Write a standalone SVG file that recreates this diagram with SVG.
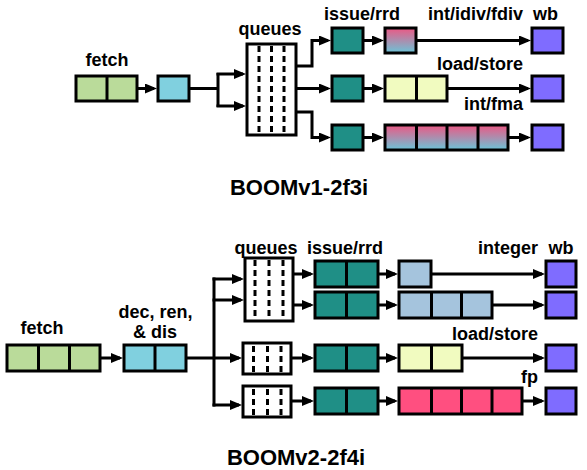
<svg xmlns="http://www.w3.org/2000/svg" width="587" height="470" viewBox="0 0 587 470">
<defs>
<marker id="ah" viewBox="0 0 12 10" refX="9" refY="5" markerWidth="12" markerHeight="10" markerUnits="userSpaceOnUse" orient="auto">
<path d="M0,0 L12,5 L0,10 z" fill="#000"/>
</marker>
<linearGradient id="grad" x1="0" y1="0" x2="0" y2="1">
<stop offset="0" stop-color="#EC5884"/>
<stop offset="1" stop-color="#6BC4D8"/>
</linearGradient>
<style>
rect, .div { stroke:#000; stroke-width:3; }
.green { fill:#BADB9A; }
.cyan { fill:#80D0DF; }
.teal { fill:#1F8F86; }
.wb { fill:#7F6CFF; }
.yellow { fill:#F1FBC0; }
.lblue { fill:#A5C4DD; }
.pink { fill:#FF4F80; }
.grad { fill:url(#grad); }
.q { fill:#fff; }
.dash { stroke:#000; stroke-width:3; stroke-dasharray:6 4; fill:none; }
.conn path { fill:none; stroke:#000; stroke-width:3; }
.arr { marker-end:url(#ah); }
text { font-family:"Liberation Sans", Arial, Helvetica, sans-serif; font-weight:bold; font-size:18px; fill:#000; }
.title { font-size:22px; }
</style>
</defs>

<!-- ================= BOOMv1 ================= -->
<g id="v1-fetch">
<rect class="green" x="76" y="76" width="61" height="25"/>
<line class="div" x1="107" y1="76" x2="107" y2="101"/>
<text x="107" y="66" text-anchor="middle">fetch</text>
</g>
<g id="v1-dec">
<rect class="cyan" x="158" y="76" width="31" height="25"/>
</g>
<g id="v1-queues">
<rect class="q" x="247" y="44" width="49" height="91"/>
<line class="dash" x1="259" y1="46" x2="259" y2="134"/>
<line class="dash" x1="271.5" y1="46" x2="271.5" y2="134"/>
<line class="dash" x1="284" y1="46" x2="284" y2="134"/>
<text x="270" y="35" text-anchor="middle">queues</text>
</g>
<g id="v1-issue">
<rect class="teal" x="332" y="28" width="31" height="25"/>
<rect class="teal" x="332" y="76" width="31" height="25"/>
<rect class="teal" x="332" y="125" width="31" height="25"/>
<text x="362" y="20" text-anchor="middle">issue/rrd</text>
</g>
<g id="v1-int">
<rect class="grad" x="385" y="28" width="31" height="25"/>
<text x="523" y="20" text-anchor="end">int/idiv/fdiv</text>
</g>
<g id="v1-mem">
<rect class="yellow" x="385" y="76" width="62" height="25"/>
<line class="div" x1="416.5" y1="76" x2="416.5" y2="101"/>
<text x="523" y="70" text-anchor="end">load/store</text>
</g>
<g id="v1-fma">
<rect class="grad" x="385" y="125" width="123" height="25"/>
<line class="div" x1="416.5" y1="125" x2="416.5" y2="150"/>
<line class="div" x1="447" y1="125" x2="447" y2="150"/>
<line class="div" x1="478" y1="125" x2="478" y2="150"/>
<text x="523" y="109.5" text-anchor="end">int/fma</text>
</g>
<g id="v1-wb">
<rect class="wb" x="532" y="28" width="31" height="25"/>
<rect class="wb" x="532" y="76" width="31" height="25"/>
<rect class="wb" x="532" y="125" width="31" height="25"/>
<text x="533" y="20">wb</text>
</g>
<text id="v1-title" class="title" x="299" y="195" text-anchor="middle">BOOMv1-2f3i</text>

<g id="v1-connectors" class="conn">
<path class="arr" d="M137,88.5 H154"/>
<path d="M189,88.5 H218 M218,73 V107"/>
<path class="arr" d="M216.5,74 H243"/>
<path class="arr" d="M216.5,106 H243"/>
<path class="arr" d="M296,66 H312 V40.5 H328"/>
<path class="arr" d="M296,88.5 H328"/>
<path class="arr" d="M296,112 H312 V137.5 H328"/>
<path class="arr" d="M363,40.5 H381"/>
<path class="arr" d="M363,88.5 H381"/>
<path class="arr" d="M363,137.5 H381"/>
<path class="arr" d="M416,40.5 H528"/>
<path class="arr" d="M447,88.5 H528"/>
<path class="arr" d="M508,137.5 H528"/>
</g>

<!-- ================= BOOMv2 ================= -->
<g id="v2-fetch">
<rect class="green" x="7" y="345" width="93" height="26"/>
<line class="div" x1="38.5" y1="345" x2="38.5" y2="371"/>
<line class="div" x1="69.5" y1="345" x2="69.5" y2="371"/>
<text x="42" y="333.5" text-anchor="middle">fetch</text>
</g>
<g id="v2-dec">
<rect class="cyan" x="124" y="345" width="62" height="26"/>
<line class="div" x1="155" y1="345" x2="155" y2="371"/>
<text x="155.5" y="318" text-anchor="middle">dec, ren,</text>
<text x="155" y="338" text-anchor="middle">&amp; dis</text>
</g>
<g id="v2-queue-int">
<rect class="q" x="245" y="258" width="48" height="63"/>
<line class="dash" x1="255" y1="260" x2="255" y2="320"/>
<line class="dash" x1="269" y1="260" x2="269" y2="320"/>
<line class="dash" x1="283" y1="260" x2="283" y2="320"/>
<text x="266" y="254" text-anchor="middle">queues</text>
</g>
<g id="v2-queue-mem">
<rect class="q" x="243" y="343" width="48" height="31"/>
<line class="dash" x1="253.5" y1="346" x2="253.5" y2="373"/>
<line class="dash" x1="267.5" y1="346" x2="267.5" y2="373"/>
<line class="dash" x1="281" y1="346" x2="281" y2="373"/>
</g>
<g id="v2-queue-fp">
<rect class="q" x="243" y="386" width="48" height="31"/>
<line class="dash" x1="253.5" y1="389" x2="253.5" y2="416"/>
<line class="dash" x1="267.5" y1="389" x2="267.5" y2="416"/>
<line class="dash" x1="281" y1="389" x2="281" y2="416"/>
</g>
<g id="v2-issue">
<rect class="teal" x="315" y="261" width="63" height="26"/>
<line class="div" x1="346.5" y1="261" x2="346.5" y2="287"/>
<rect class="teal" x="315" y="292" width="63" height="26"/>
<line class="div" x1="346.5" y1="292" x2="346.5" y2="318"/>
<rect class="teal" x="315" y="345" width="63" height="26"/>
<line class="div" x1="346.5" y1="345" x2="346.5" y2="371"/>
<rect class="teal" x="315" y="388" width="63" height="26"/>
<line class="div" x1="346.5" y1="388" x2="346.5" y2="414"/>
<text x="345" y="254" text-anchor="middle">issue/rrd</text>
</g>
<g id="v2-int1">
<rect class="lblue" x="399" y="261" width="32" height="26"/>
<text x="538" y="254" text-anchor="end">integer</text>
</g>
<g id="v2-int2">
<rect class="lblue" x="399" y="292" width="93" height="26"/>
<line class="div" x1="431.5" y1="292" x2="431.5" y2="318"/>
<line class="div" x1="461.5" y1="292" x2="461.5" y2="318"/>
</g>
<g id="v2-mem">
<rect class="yellow" x="399" y="345" width="63" height="26"/>
<line class="div" x1="431.5" y1="345" x2="431.5" y2="371"/>
<text x="538" y="340" text-anchor="end">load/store</text>
</g>
<g id="v2-fp">
<rect class="pink" x="399" y="388" width="123" height="26"/>
<line class="div" x1="431.5" y1="388" x2="431.5" y2="414"/>
<line class="div" x1="461.5" y1="388" x2="461.5" y2="414"/>
<line class="div" x1="492" y1="388" x2="492" y2="414"/>
<text x="538" y="383" text-anchor="end">fp</text>
</g>
<g id="v2-wb">
<rect class="wb" x="546" y="261" width="30" height="26"/>
<rect class="wb" x="546" y="292" width="30" height="26"/>
<rect class="wb" x="546" y="345" width="30" height="26"/>
<rect class="wb" x="546" y="388" width="30" height="26"/>
<text x="561" y="254" text-anchor="middle">wb</text>
</g>
<text id="v2-title" class="title" x="296" y="465" text-anchor="middle">BOOMv2-2f4i</text>

<g id="v2-connectors" class="conn">
<path class="arr" d="M100,358 H120"/>
<path d="M186,358 H214 M214,277.5 V406.5"/>
<path class="arr" d="M212.5,279 H241"/>
<path class="arr" d="M212.5,300 H241"/>
<path class="arr" d="M214,358 H239"/>
<path class="arr" d="M212.5,405 H239"/>
<path class="arr" d="M293,274 H311"/>
<path class="arr" d="M293,305 H311"/>
<path class="arr" d="M291,358 H311"/>
<path class="arr" d="M291,401 H311"/>
<path class="arr" d="M378,274 H395"/>
<path class="arr" d="M378,305 H395"/>
<path class="arr" d="M378,358 H395"/>
<path class="arr" d="M378,401 H395"/>
<path class="arr" d="M431,274 H542"/>
<path class="arr" d="M492,305 H542"/>
<path class="arr" d="M462,358 H542"/>
<path class="arr" d="M522,401 H542"/>
</g>
</svg>
